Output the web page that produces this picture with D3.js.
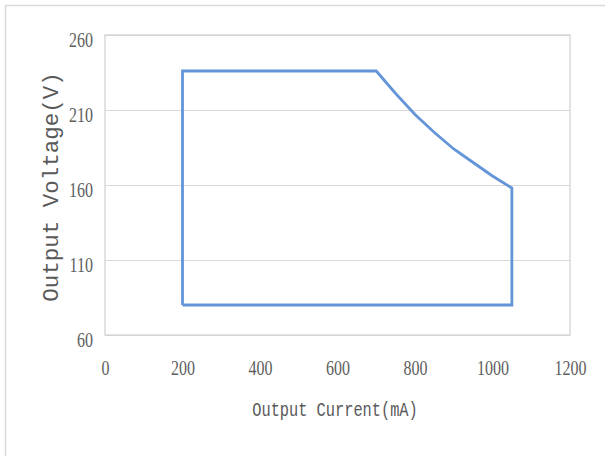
<!DOCTYPE html>
<html>
<head>
<meta charset="utf-8">
<script src="https://cdn.jsdelivr.net/npm/d3@7"></script>
<style>
  html, body { margin: 0; padding: 0; background: #ffffff; }
  svg { display: block; }
</style>
</head>
<body>
<div id="chart"></div>
<script>
// Operating window of the driver: output current vs. output voltage
const currentMA = [200, 200, 700, 750, 800, 850, 900, 950, 1000, 1050, 1050, 200];
const voltageV  = [80, 236, 236, 221, 207, 195, 184, 175, 166, 158, 80, 80];

const xTicks = [0, 200, 400, 600, 800, 1000, 1200];
const yTicks = [60, 110, 160, 210, 260];

const xTitle = "Output Current(mA)";
const yTitle = "Output Voltage(V)";

const W = 605, H = 456;
const plot = { left: 105, top: 35, right: 570, bottom: 335 };

const svg = d3.select("#chart").append("svg")
  .attr("width", W).attr("height", H);

// chart frame
svg.append("rect")
  .attr("x", 5.5).attr("y", 5.5)
  .attr("width", W + 20).attr("height", H + 20)
  .attr("fill", "#ffffff")
  .attr("stroke", "#d9d9d9").attr("stroke-width", 1.5);

const x = d3.scaleLinear().domain([0, 1200]).range([plot.left, plot.right]);
const y = d3.scaleLinear().domain([60, 260]).range([plot.bottom, plot.top]);

const tickFont = "'Liberation Serif', serif";
const sx = 0.8;

// horizontal gridlines + y tick labels
const gy = svg.append("g")
  .attr("transform", `translate(${plot.left},0)`)
  .call(d3.axisLeft(y).tickValues(yTicks).tickSize(-(plot.right - plot.left)).tickFormat(d3.format("d")));
gy.select(".domain").remove();
gy.selectAll(".tick line").attr("stroke", "#d9d9d9").attr("stroke-width", 1.2);
gy.selectAll(".tick text")
  .attr("x", -12 / sx)
  .attr("dy", "0.55em")
  .attr("transform", `scale(${sx},1)`)
  .attr("fill", "#5e5e5e")
  .style("font-family", tickFont)
  .style("font-size", "20px");

// plot area border
svg.append("rect")
  .attr("x", plot.left).attr("y", plot.top)
  .attr("width", plot.right - plot.left).attr("height", plot.bottom - plot.top)
  .attr("fill", "none")
  .attr("stroke", "#d0d0d0").attr("stroke-width", 1.2);

// x tick labels
const gx = svg.append("g")
  .attr("transform", `translate(0,${plot.bottom})`)
  .call(d3.axisBottom(x).tickValues(xTicks).tickSize(0).tickFormat(d3.format("d")));
gx.select(".domain").remove();
gx.selectAll(".tick text")
  .attr("y", 33)
  .attr("dy", "0.35em")
  .attr("transform", `scale(${sx},1)`)
  .attr("fill", "#5e5e5e")
  .style("font-family", tickFont)
  .style("font-size", "20px");

// operating envelope
const line = d3.line()
  .x((d, i) => x(currentMA[i]))
  .y((d, i) => y(voltageV[i]));
svg.append("path")
  .datum(currentMA)
  .attr("d", line)
  .attr("fill", "none")
  .attr("stroke", "#6495d8")
  .attr("stroke-width", 2.8)
  .attr("stroke-linejoin", "miter");

// axis titles
svg.append("text")
  .attr("transform", `translate(335,409) scale(0.73,1)`)
  .attr("text-anchor", "middle")
  .attr("dy", "0.35em")
  .attr("fill", "#595959")
  .style("font-family", "'Liberation Mono', monospace")
  .style("font-size", "21px")
  .text(xTitle);

svg.append("text")
  .attr("transform", `translate(50,187) rotate(-90)`)
  .attr("text-anchor", "middle")
  .attr("dy", "0.35em")
  .attr("fill", "#595959")
  .style("font-family", "'Liberation Mono', monospace")
  .style("font-size", "22.5px")
  .text(yTitle);
</script>
</body>
</html>
